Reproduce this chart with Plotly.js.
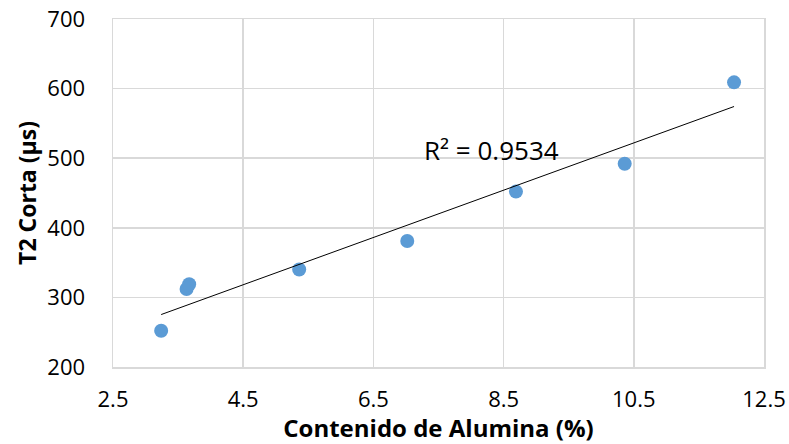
<!DOCTYPE html>
<html><head><meta charset="utf-8">
<script src="https://cdn.plot.ly/plotly-3.0.1.min.js"></script>
<style>html,body{margin:0;padding:0;background:#fff}</style>
</head><body>
<div id="chart" style="width:789px;height:444px"></div>
<script>
const alumina = [3.24, 3.63, 3.67, 5.36, 7.02, 8.69, 10.36, 12.04];
const t2corta = [252, 312, 319, 340, 381, 452, 492, 609];
const xTicks = [2.5, 4.5, 6.5, 8.5, 10.5, 12.5];
const yTicks = [200, 300, 400, 500, 600, 700];

// linear least squares trendline
const n = alumina.length;
const mx = alumina.reduce((a,b)=>a+b,0)/n;
const my = t2corta.reduce((a,b)=>a+b,0)/n;
let sxy=0, sxx=0;
for (let i=0;i<n;i++){sxy+=(alumina[i]-mx)*(t2corta[i]-my);sxx+=(alumina[i]-mx)**2;}
const slope = sxy/sxx, intercept = my - slope*mx;
const r2 = 0.9534;
const xmin = Math.min(...alumina), xmax = Math.max(...alumina);

const font = "Open Sans, Noto Sans, sans-serif";
const data = [
  {x: alumina, y: t2corta, type:'scatter', mode:'markers',
   marker:{color:'#5B9BD5', size:14}, hoverinfo:'x+y'},
  {x:[xmin,xmax], y:[intercept+slope*xmin, intercept+slope*xmax], type:'scatter', mode:'lines',
   line:{color:'#000000', width:1}, hoverinfo:'skip'}
];
const layout = {
  width:789, height:444,
  margin:{l:113, r:25, t:19, b:77},
  paper_bgcolor:'#fff', plot_bgcolor:'#fff',
  showlegend:false,
  font:{family:font, color:'#000', size:22},
  xaxis:{range:[2.5,12.5], tickvals:xTicks, ticktext:xTicks.map(v=>v.toFixed(1)),
    showgrid:true, gridcolor:'#D9D9D9', gridwidth:1.5, zeroline:false,
    showline:true, linecolor:'#D9D9D9', linewidth:1.5, mirror:true,
    ticks:'', ticklabelstandoff:12, tickfont:{size:22, family:font},
    title:{text:'<b>Contenido de Alumina (%)</b>', font:{size:24, family:font}, standoff:0}},
  yaxis:{range:[200,700], tickvals:yTicks,
    showgrid:true, gridcolor:'#D9D9D9', gridwidth:1.5, zeroline:false,
    showline:true, linecolor:'#D9D9D9', linewidth:1.5, mirror:true,
    ticks:'', ticklabelstandoff:22, tickfont:{size:22, family:font},
    title:{text:'<b>T2 Corta (µs)</b>', font:{size:23, family:font}, standoff:4}},
  annotations:[{x:8.32, y:512, xref:'x', yref:'y', text:'R² = '+r2.toFixed(4),
    showarrow:false, font:{size:26, family:font, color:'#000'}}]
};
Plotly.newPlot('chart', data, layout, {displayModeBar:false, staticPlot:true});
</script>
</body></html>
